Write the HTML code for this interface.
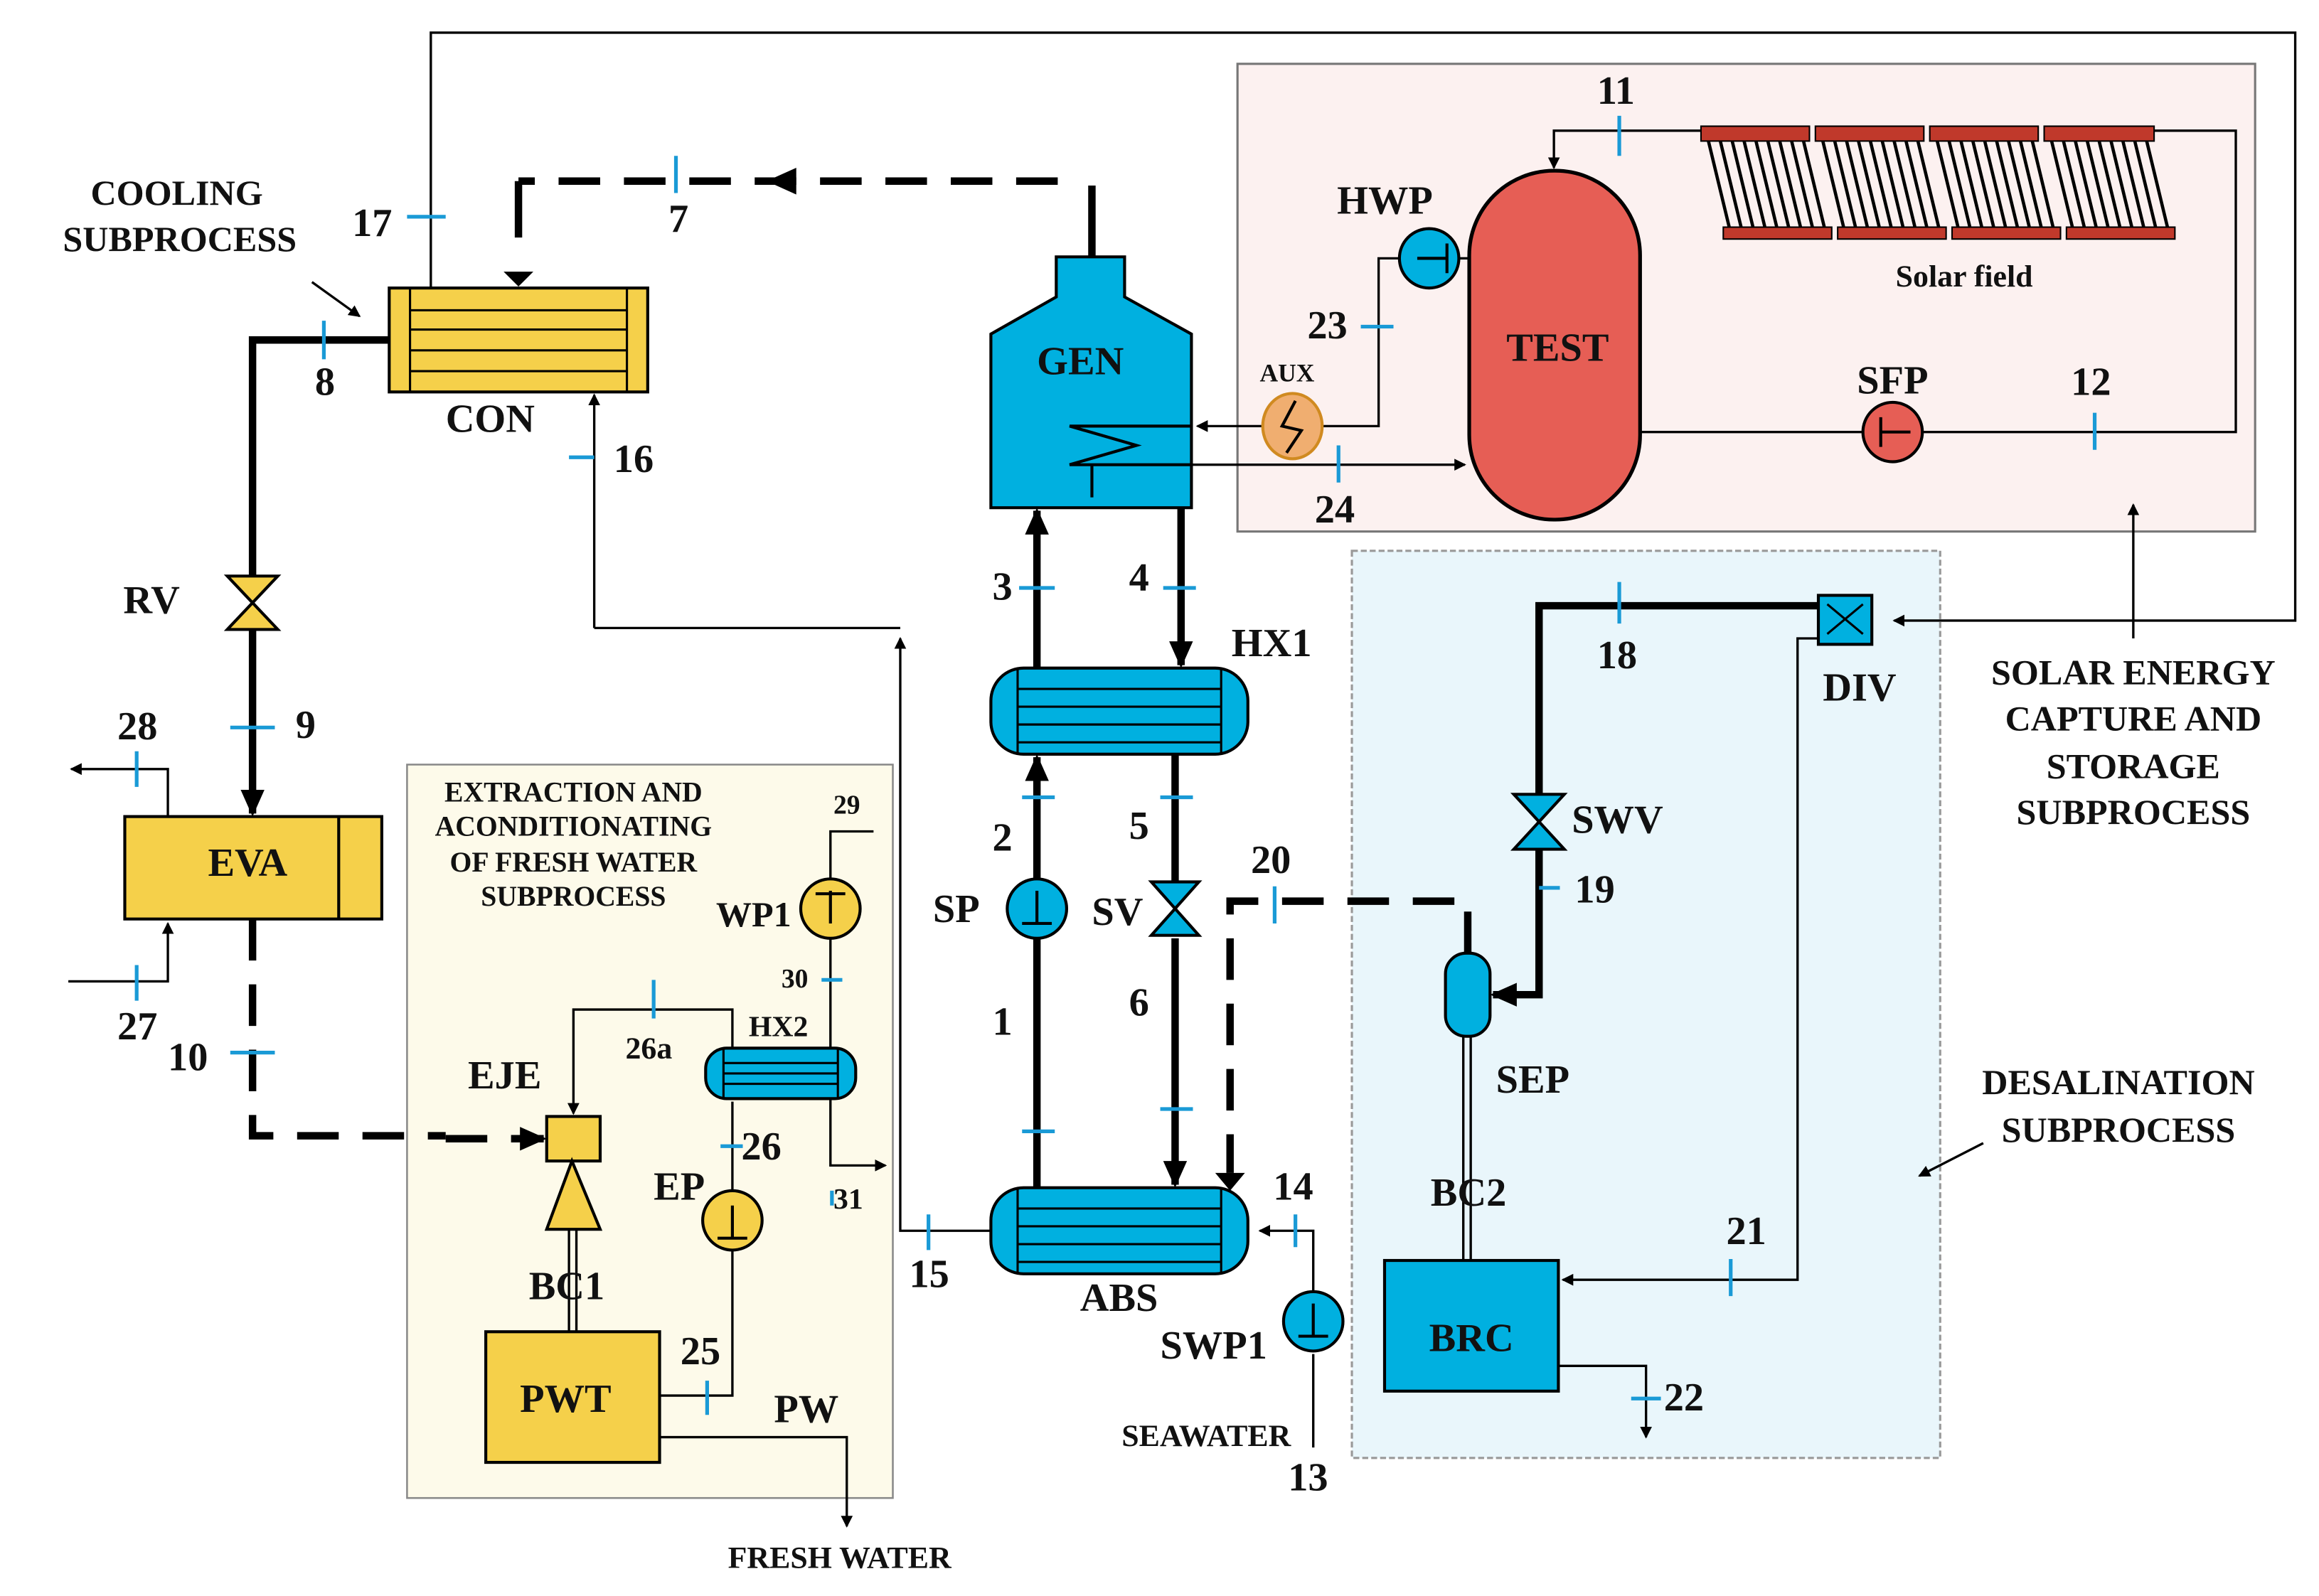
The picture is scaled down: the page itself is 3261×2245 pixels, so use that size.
<!DOCTYPE html>
<html><head><meta charset="utf-8"><style>html,body{margin:0;padding:0;background:#fff}svg{display:block}
text{font-family:"Liberation Serif",serif;font-weight:bold;fill:#111}</style></head><body>
<svg width="3261" height="2245" viewBox="0 0 1561 1075" preserveAspectRatio="none" xmlns="http://www.w3.org/2000/svg">
<defs>
<marker id="a" markerWidth="8" markerHeight="8" refX="7" refY="4" orient="auto" markerUnits="userSpaceOnUse"><path d="M0,0L8,4L0,8z" fill="#000"/></marker>
<marker id="b" markerWidth="18" markerHeight="16" refX="16" refY="8" orient="auto" markerUnits="userSpaceOnUse"><path d="M0,0L18,8L0,16z" fill="#000"/></marker>
</defs>
<rect x="833" y="43" width="685" height="315" fill="#fcf1f0" stroke="#777" stroke-width="1.5"/>
<rect x="910" y="371" width="396" height="611" fill="#e9f6fb" stroke="#999" stroke-width="1.5" stroke-dasharray="4 2"/>
<rect x="274" y="515" width="327" height="494" fill="#fdfaea" stroke="#888" stroke-width="1.2"/>
<g fill="none" stroke="#000" stroke-width="1.6">
<path d="M290 195V22H1545V418H1275" marker-end="url(#a)"/>
<path d="M400 423V266" marker-end="url(#a)"/>
<path d="M400 423H606" /><path d="M667 829H606V430" marker-end="url(#a)"/>
<path d="M884 975V912"/><path d="M884 870V829H848" marker-end="url(#a)"/>
<path d="M1224 430H1210V862H1052" marker-end="url(#a)"/>
<path d="M1049 920H1108V968" marker-end="url(#a)"/>
<path d="M1104 291H1254"/><path d="M1294 291H1505V88H1450"/><path d="M1145 88H1046V113" marker-end="url(#a)"/>
<path d="M989 174H982"/><path d="M942 174H928V287H890"/><path d="M850 287H806" marker-end="url(#a)"/>
<path d="M735 313H986" marker-end="url(#a)"/>
<path d="M1436 430V340" marker-end="url(#a)"/>
<path d="M444 940H493V842"/><path d="M493 802V742"/>
<path d="M493 706V680H386V750" marker-end="url(#a)"/>
<path d="M588 560H559V592"/><path d="M559 632V706"/><path d="M559 740V785H596" marker-end="url(#a)"/>
<path d="M444 968H570V1028" marker-end="url(#a)"/>
<path d="M113 550V518H48" marker-end="url(#a)"/><path d="M46 661H113V622" marker-end="url(#a)"/>
<path d="M383 828V897M388 828V897M985 698V849M990 698V849"/>
<path d="M210 190L242 213" marker-end="url(#a)"/><path d="M1335 770L1292 792" marker-end="url(#a)"/>
</g>
<g fill="none" stroke="#000" stroke-width="5">
<path d="M262 229H170V388"/><path d="M170 424V548" marker-end="url(#b)"/>
<path d="M698 800V632"/><path d="M698 592V510" marker-end="url(#b)"/>
<path d="M698 450V344" marker-end="url(#b)"/>
<path d="M795 342V448" marker-end="url(#b)"/>
<path d="M791 508V594"/><path d="M791 632V798" marker-end="url(#b)"/>
<path d="M1224 408H1036V535"/><path d="M1036 572V670H1005" marker-end="url(#b)"/>
<path d="M735 173V125"/>
<path d="M349 122V160"/>
</g>
<g fill="none" stroke="#000" stroke-width="5" stroke-dasharray="28 16">
<path d="M712 122H349"/><path d="M170 619V765H300"/><path d="M988 642V607H828V790"/>
</g>
<path d="M300 767H366" stroke="#000" stroke-width="5" stroke-dasharray="28 16" marker-end="url(#b)"/>
<path d="M516 122l20 -9v18z" fill="#000"/><path d="M339 183h20l-10 10z" fill="#000"/><path d="M818 790h20l-10 12z" fill="#000"/>
<rect x="262" y="194" width="174" height="70" fill="#f5d04a" stroke="#000" stroke-width="2"/>
<path d="M276 194V264M422 194V264M276 209H422M276 222H422M276 236H422M276 250H422" stroke="#000" stroke-width="1.5"/>
<path d="M711 173H757V200L802 225V342H667V225L711 200Z" fill="#00b0e0" stroke="#000" stroke-width="2"/>
<path d="M802 287H720L765 300L720 313H802M735 313V335" fill="none" stroke="#000" stroke-width="2"/>
<rect x="989" y="115" width="115" height="235" rx="57" fill="#e65e55" stroke="#000" stroke-width="2.5"/>
<g fill="#c0392b" stroke="#000" stroke-width="1">
<rect x="1145" y="85" width="73" height="10"/><rect x="1222" y="85" width="73" height="10"/><rect x="1299" y="85" width="73" height="10"/><rect x="1376" y="85" width="74" height="10"/>
<rect x="1160" y="153" width="73" height="8"/><rect x="1237" y="153" width="73" height="8"/><rect x="1314" y="153" width="73" height="8"/><rect x="1391" y="153" width="73" height="8"/>
</g>
<g stroke="#000" stroke-width="2.2">
<path d="M1150 95l14 58M1158 95l14 58M1166 95l14 58M1174 95l14 58M1182 95l14 58M1190 95l14 58M1198 95l14 58M1206 95l14 58M1214 95l14 58"/>
<path d="M1227 95l14 58M1235 95l14 58M1243 95l14 58M1251 95l14 58M1259 95l14 58M1267 95l14 58M1275 95l14 58M1283 95l14 58M1291 95l14 58"/>
<path d="M1304 95l14 58M1312 95l14 58M1320 95l14 58M1328 95l14 58M1336 95l14 58M1344 95l14 58M1352 95l14 58M1360 95l14 58M1368 95l14 58"/>
<path d="M1381 95l14 58M1389 95l14 58M1397 95l14 58M1405 95l14 58M1413 95l14 58M1421 95l14 58M1429 95l14 58M1437 95l14 58M1445 95l14 58"/>
</g>
<g fill="#00b0e0" stroke="#000" stroke-width="2">
<rect x="667" y="450" width="173" height="58" rx="22"/><rect x="667" y="800" width="173" height="58" rx="22"/>
<rect x="475" y="706" width="101" height="34" rx="14"/>
<rect x="973" y="642" width="30" height="56" rx="14"/>
<rect x="932" y="849" width="117" height="88"/>
<rect x="1224" y="401" width="36" height="33"/>
</g>
<path d="M685 450V508M822 450V508M685 464H822M685 476H822M685 488H822M685 500H822M685 800V858M822 800V858M685 814H822M685 826H822M685 838H822M685 850H822M487 706V740M564 706V740M487 716H564M487 723H564M487 730H564" stroke="#000" stroke-width="1.5"/>
<path d="M1230 407l24 20M1254 407l-24 20" stroke="#000" stroke-width="1.5"/>
<g fill="#f5d04a" stroke="#000" stroke-width="2">
<rect x="84" y="550" width="173" height="69"/><rect x="327" y="897" width="117" height="88"/>
<rect x="368" y="752" width="36" height="30"/><path d="M385 782L368 828H404Z"/>
</g>
<path d="M228 550V619" stroke="#000" stroke-width="2"/>
<g stroke="#000" stroke-width="2">
<path d="M153 388H187L153 424H187Z" fill="#f5d04a"/>
<path d="M775 594H807L775 630H807Z" fill="#00b0e0"/>
<path d="M1019 535H1053L1019 572H1053Z" fill="#00b0e0"/>
</g>
<g stroke="#000" stroke-width="2">
<circle cx="698" cy="612" r="20" fill="#00b0e0"/><circle cx="884" cy="890" r="20" fill="#00b0e0"/>
<circle cx="962" cy="174" r="20" fill="#00b0e0"/><circle cx="1274" cy="291" r="20" fill="#e65e55"/>
<circle cx="559" cy="612" r="20" fill="#f5d04a"/><circle cx="493" cy="822" r="20" fill="#f5d04a"/>
<ellipse cx="870" cy="287" rx="20" ry="22" fill="#f0ae70" stroke="#d08a20"/>
</g>
<path d="M698 600V622M688 622H708M884 878V900M874 900H894M954 174H974M974 164V184M1266 291H1286M1266 281V301M559 622V600M549 602H569M493 812V834M483 834H503M872 270L863 287L876 290L866 305" fill="none" stroke="#000" stroke-width="2"/>
<g stroke="#1a9ad6" stroke-width="2.5">
<path d="M455 105V130M218 216V242M274 146H300M155 490H185M155 709H185M686 396H710M783 396H805M688 537H710M781 537H803M688 762H710M781 747H803M858 597V622M1036 598H1050M1090 392V420M1090 78V105M1410 278V303M916 220H938M901 300V325M625 818V842M872 818V840M1165 848V873M1098 942H1118M383 308H400M440 660V686M553 660H567M485 772H500M560 802V812M476 930V953M92 650V674M92 506V530"/>
</g>
<g font-size="27">
<text x="698" y="252">GEN</text><text x="1014" y="243">TEST</text><text x="300" y="291">CON</text>
<text x="140" y="590">EVA</text><text x="350" y="951">PWT</text><text x="962" y="910">BRC</text>
<text x="829" y="442">HX1</text><text x="727" y="883">ABS</text><text x="1227" y="472">DIV</text>
<text x="900" y="144">HWP</text><text x="1250" y="265">SFP</text><text x="83" y="413">RV</text>
<text x="1058" y="561">SWV</text><text x="1007" y="736">SEP</text><text x="963" y="812">BC2</text>
<text x="356" y="875">BC1</text><text x="315" y="733">EJE</text><text x="628" y="621">SP</text><text x="735" y="623">SV</text>
<text x="440" y="808">EP</text><text x="781" y="915">SWP1</text><text x="521" y="958">PW</text>
<text x="482" y="624" font-size="24">WP1</text>
<text x="1075" y="70">11</text><text x="1394" y="266">12</text><text x="237" y="159">17</text>
<text x="450" y="156">7</text><text x="212" y="266">8</text><text x="199" y="497">9</text><text x="113" y="721">10</text>
<text x="413" y="318">16</text><text x="880" y="228">23</text><text x="885" y="352">24</text>
<text x="668" y="404">3</text><text x="760" y="398">4</text><text x="668" y="573">2</text><text x="760" y="565">5</text>
<text x="668" y="697">1</text><text x="760" y="684">6</text><text x="842" y="588">20</text><text x="1075" y="450">18</text>
<text x="1060" y="608">19</text><text x="857" y="808">14</text><text x="1162" y="838">21</text><text x="1120" y="950">22</text>
<text x="612" y="867">15</text><text x="867" y="1004">13</text><text x="499" y="781">26</text><text x="458" y="919">25</text>
<text x="79" y="498">28</text><text x="79" y="700">27</text>
</g>
<g font-size="21">
<text x="421" y="713">26a</text><text x="504" y="698" font-size="20">HX2</text>
<text x="561" y="548" font-size="18">29</text><text x="526" y="665" font-size="18">30</text><text x="561" y="814" font-size="20">31</text>
<text x="848" y="257" font-size="17">AUX</text>
<text x="1276" y="193" font-weight="normal">Solar field</text>
<text x="755" y="974">SEAWATER</text><text x="490" y="1056">FRESH WATER</text>
</g>
<g font-size="24" text-anchor="middle">
<text x="119" y="138">COOLING</text><text x="121" y="169">SUBPROCESS</text>
<text x="1436" y="461">SOLAR ENERGY</text><text x="1436" y="492">CAPTURE AND</text><text x="1436" y="524">STORAGE</text><text x="1436" y="555">SUBPROCESS</text>
<text x="1426" y="737">DESALINATION</text><text x="1426" y="769">SUBPROCESS</text>
</g>
<g font-size="19" text-anchor="middle" font-weight="normal">
<text x="386" y="540">EXTRACTION AND</text><text x="386" y="563">ACONDITIONATING</text><text x="386" y="587">OF FRESH WATER</text><text x="386" y="610">SUBPROCESS</text>
</g>
</svg>
</body></html>
